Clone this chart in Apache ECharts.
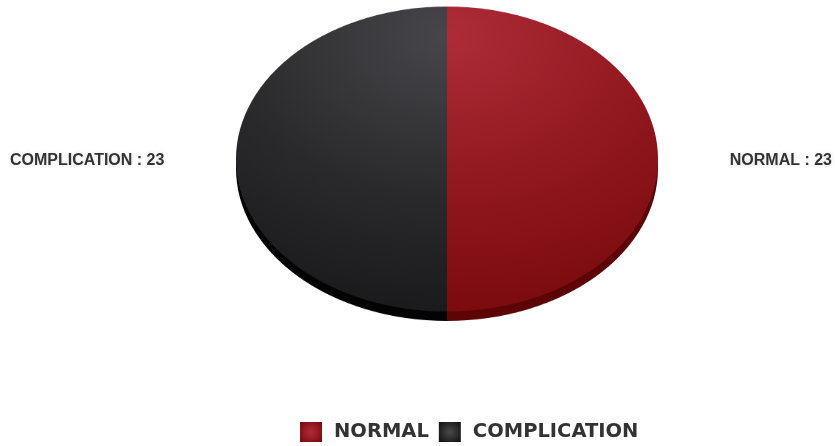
<!DOCTYPE html>
<html>
<head>
<meta charset="utf-8">
<title>NORMAL / COMPLICATION</title>
<script src="https://cdn.jsdelivr.net/npm/echarts@6/dist/echarts.min.js"></script>
<style>
  html, body { margin: 0; padding: 0; background: #fff; overflow: hidden; }
  #stage { position: relative; width: 835px; height: 446px; overflow: hidden; }
  /* the pie is drawn as a circle and flattened vertically into a tilted disc */
  #disc {
    position: absolute; left: 0; top: -91.5px; width: 835px; height: 500px;
    transform: scaleY(0.7227); transform-origin: 50% 250px;
  }
  #overlay { position: absolute; left: 0; top: 0; width: 835px; height: 446px; }
</style>
</head>
<body>
<div id="stage">
  <div id="disc"></div>
  <div id="overlay"></div>
</div>
<script>
const categories = ['NORMAL', 'COMPLICATION'];
const counts = [23, 23];

// face shading (light spot near the top of the disc)
const faceColors = [
  ['#ad2c38', '#8f171d', '#740709'],
  ['#47464a', '#2a292c', '#151516']
];
const edgeColors = ['#5c0406', '#030303'];
const iconColors = [['#b02c36', '#7a0a0e'], ['#4a494c', '#111111']];

function faceGradient(c) {
  return new echarts.graphic.RadialGradient(447, 80, 440, [
    { offset: 0, color: c[0] },
    { offset: 0.5, color: c[1] },
    { offset: 1, color: c[2] }
  ], true);
}

const disc = echarts.init(document.getElementById('disc'), null, { renderer: 'canvas' });
disc.setOption({
  animation: false,
  series: [
    {
      // side wall of the disc
      type: 'pie',
      center: [447, 263],
      radius: 211,
      silent: true,
      z: 1,
      label: { show: false },
      labelLine: { show: false },
      itemStyle: { borderWidth: 0 },
      data: categories.map((name, i) => ({
        name, value: counts[i], itemStyle: { color: edgeColors[i] }
      }))
    },
    {
      // top face
      type: 'pie',
      center: [447, 250],
      radius: 211,
      silent: true,
      z: 2,
      label: { show: false },
      labelLine: { show: false },
      itemStyle: { borderWidth: 0 },
      data: categories.map((name, i) => ({
        name, value: counts[i], itemStyle: { color: faceGradient(faceColors[i]) }
      }))
    }
  ]
});

const overlay = echarts.init(document.getElementById('overlay'), null, { renderer: 'canvas' });
overlay.setOption({
  animation: false,
  backgroundColor: 'transparent',
  legend: {
    left: 300,
    top: 422,
    padding: 0,
    itemWidth: 22,
    itemHeight: 20,
    itemGap: 10,
    icon: 'rect',
    selectedMode: false,
    textStyle: {
      fontFamily: 'DejaVu Sans',
      fontWeight: 'bold',
      fontSize: 19.5,
      color: '#333333',
      padding: [0, 0, 0, 7]
    },
    data: categories.map((name, i) => ({
      name,
      itemStyle: {
        color: new echarts.graphic.RadialGradient(0.5, 0.5, 0.7, [
          { offset: 0, color: iconColors[i][0] },
          { offset: 1, color: iconColors[i][1] }
        ])
      }
    }))
  },
  series: [
    {
      // value labels for the slices
      type: 'pie',
      center: [447, 158.5],
      radius: 150,
      silent: true,
      itemStyle: { color: 'rgba(0,0,0,0)' },
      label: {
        show: true,
        position: 'outside',
        formatter: '{b} : {c}',
        fontFamily: 'Liberation Sans',
        fontWeight: 'bold',
        fontSize: 16,
        color: '#333333',
        textShadowColor: 'rgba(0,0,0,0.12)',
        textShadowBlur: 4
      },
      labelLine: { show: false },
      labelLayout: function (p) {
        return p.dataIndex === 0
          ? { x: 832, y: 161, align: 'right', verticalAlign: 'middle' }
          : { x: 10, y: 161, align: 'left', verticalAlign: 'middle' };
      },
      data: categories.map((name, i) => ({ name, value: counts[i] }))
    }
  ]
});
</script>
</body>
</html>
